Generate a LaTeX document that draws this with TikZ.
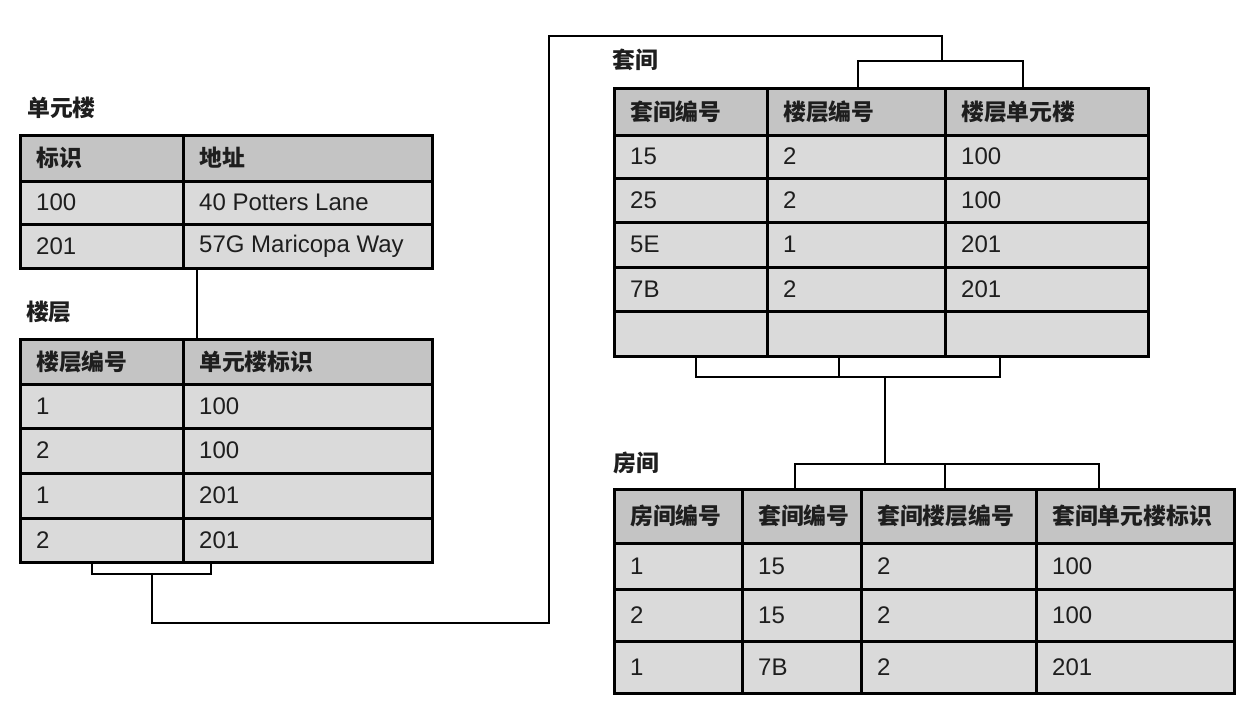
\documentclass[tikz,border=0pt]{standalone}
\usepackage{fontspec}
\setmainfont{Liberation Sans}
\newfontfamily\cjk{Noto Sans CJK SC}[Scale=0.95]
\definecolor{headgray}{RGB}{196,196,196}
\definecolor{rowgray}{RGB}{218,218,218}
\definecolor{inkgray}{RGB}{30,30,30}

\begin{document}
\begin{tikzpicture}[x=1pt, y=-1pt,
    cell/.style={draw, line width=3pt, anchor=north west, inner sep=0pt, outer sep=0pt},
    celltext/.style={anchor=west, inner sep=0pt, xshift=16pt, text=inkgray, font=\fontsize{24}{28}\selectfont},
    headtext/.style={celltext, font=\cjk\bfseries\fontsize{24}{28}\selectfont},
    title/.style={anchor=west, inner sep=0pt, text=inkgray, font=\cjk\bfseries\fontsize{24}{28}\selectfont},
    link/.style={line width=2.8pt}]
    \useasboundingbox (0,0) rectangle (1239,710);

    % Table: 单元楼
    \foreach \c/\xa/\xb/\t in {1/20/183/标识, 2/183/432/地址}
    \node[cell, fill=headgray, minimum width=\xb-\xa, minimum height=46, label={[headtext]west:\t}] (bldg-0-\c) at (\xa,135) {};
    \foreach \r/\ya/\yb/\a/\b in {1/181/224/100/40 Potters Lane, 2/224/268/201/57G Maricopa Way} {
        \node[cell, fill=rowgray, minimum width=163, minimum height=\yb-\ya, label={[celltext]west:\a}] (bldg-\r-1) at (20,\ya) {};
        \node[cell, fill=rowgray, minimum width=249, minimum height=\yb-\ya, label={[celltext]west:\b}] (bldg-\r-2) at (183,\ya) {};
    }
    \node[title] (bldg-title) at ([xshift=7pt, yshift=27pt]bldg-0-1.north west) {单元楼};

    % Table: 楼层
    \foreach \c/\xa/\xb/\t in {1/20/183/楼层编号, 2/183/432/单元楼标识}
    \node[cell, fill=headgray, minimum width=\xb-\xa, minimum height=45, label={[headtext]west:\t}] (floor-0-\c) at (\xa,339) {};
    \foreach \r/\ya/\yb/\a/\b in {1/384/428/1/100, 2/428/473/2/100, 3/473/518/1/201, 4/518/562/2/201} {
        \node[cell, fill=rowgray, minimum width=163, minimum height=\yb-\ya, label={[celltext]west:\a}] (floor-\r-1) at (20,\ya) {};
        \node[cell, fill=rowgray, minimum width=249, minimum height=\yb-\ya, label={[celltext]west:\b}] (floor-\r-2) at (183,\ya) {};
    }
    \node[title] (floor-title) at ([xshift=6pt, yshift=27pt]floor-0-1.north west) {楼层};

    % Table: 套间
    \foreach \c/\xa/\xb/\t in {1/614/767/套间编号, 2/767/945/楼层编号, 3/945/1148/楼层单元楼}
    \node[cell, fill=headgray, minimum width=\xb-\xa, minimum height=47, label={[headtext]west:\t}] (suite-0-\c) at (\xa,88) {};
    \foreach \r/\ya/\yb/\a/\b/\d in {1/135/178/15/2/100, 2/178/222/25/2/100, 3/222/267/5E/1/201, 4/267/311/7B/2/201, 5/311/356///} {
        \node[cell, fill=rowgray, minimum width=153, minimum height=\yb-\ya, label={[celltext]west:\a}] (suite-\r-1) at (614,\ya) {};
        \node[cell, fill=rowgray, minimum width=178, minimum height=\yb-\ya, label={[celltext]west:\b}] (suite-\r-2) at (767,\ya) {};
        \node[cell, fill=rowgray, minimum width=203, minimum height=\yb-\ya, label={[celltext]west:\d}] (suite-\r-3) at (945,\ya) {};
    }
    \node[title] (suite-title) at ([xshift=-2pt, yshift=28pt]suite-0-1.north west) {套间};

    % Table: 房间
    \foreach \c/\xa/\xb/\t in {1/614/742/房间编号, 2/742/861/套间编号, 3/861/1036/套间楼层编号, 4/1036/1234/套间单元楼标识}
    \node[cell, fill=headgray, minimum width=\xb-\xa, minimum height=54, label={[headtext]west:\t}] (room-0-\c) at (\xa,489) {};
    \foreach \r/\ya/\yb/\a/\b/\d/\e in {1/543/589/1/15/2/100, 2/589/641/2/15/2/100, 3/641/693/1/7B/2/201} {
        \node[cell, fill=rowgray, minimum width=128, minimum height=\yb-\ya, label={[celltext]west:\a}] (room-\r-1) at (614,\ya) {};
        \node[cell, fill=rowgray, minimum width=119, minimum height=\yb-\ya, label={[celltext]west:\b}] (room-\r-2) at (742,\ya) {};
        \node[cell, fill=rowgray, minimum width=175, minimum height=\yb-\ya, label={[celltext]west:\d}] (room-\r-3) at (861,\ya) {};
        \node[cell, fill=rowgray, minimum width=198, minimum height=\yb-\ya, label={[celltext]west:\e}] (room-\r-4) at (1036,\ya) {};
    }
    \node[title] (room-title) at ([xshift=-1pt, yshift=26pt]room-0-1.north west) {房间};

    % Links
    \coordinate (floor-fk) at (152,574);
    \coordinate (suite-fk) at (942,61);
    \coordinate (suite-pk) at (885,377);
    \coordinate (room-fk) at (885,464);

    \draw[link] ([xshift=14pt]bldg-2-2.south west) -- ([xshift=14pt]floor-0-2.north west);

    \draw[link] ([xshift=72pt]floor-4-1.south west) |- (floor-fk) -| ([xshift=28pt]floor-4-2.south west);
    \draw[link] (floor-fk) -- ++(0,49) -| (549,36) -| (suite-fk);
    \draw[link] ([xshift=91pt]suite-0-2.north west) |- (suite-fk) -| ([xshift=78pt]suite-0-3.north west);

    \draw[link] ([xshift=82pt]suite-5-1.south west) |- (suite-pk) -| ([xshift=55pt]suite-5-3.south west);
    \draw[link] ([xshift=72pt]suite-5-2.south west) -- ([xshift=72pt]suite-5-2.south west |- suite-pk);
    \draw[link] (suite-pk) -- (room-fk);
    \draw[link] ([xshift=53pt]room-0-2.north west) |- (room-fk) -| ([xshift=63pt]room-0-4.north west);
    \draw[link] ([xshift=84pt]room-0-3.north west) -- ([xshift=84pt]room-0-3.north west |- room-fk);
\end{tikzpicture}
\end{document}
